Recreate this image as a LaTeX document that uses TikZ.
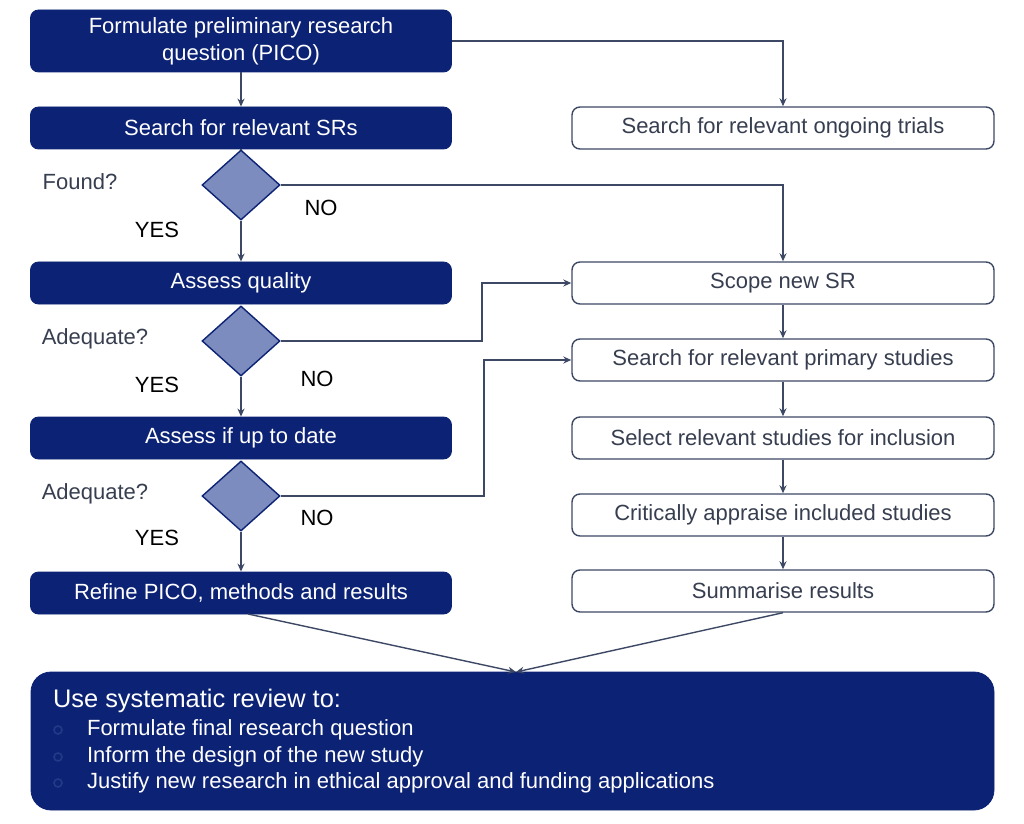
\documentclass[tikz,border=0pt]{standalone}
\usepackage{fontspec}
\setmainfont{Liberation Sans}
\usetikzlibrary{shapes.geometric,arrows.meta}

\definecolor{navy}{RGB}{12,34,116}
\definecolor{slate}{RGB}{125,140,190}
\definecolor{edgegray}{RGB}{60,72,100}
\definecolor{txtgray}{RGB}{55,62,80}
\definecolor{dotblue}{RGB}{36,58,136}

\tikzset{
  darkbox/.style={draw=navy, fill=navy, text=white, rounded corners=4pt,
    minimum width=210.5pt, minimum height=21pt, inner sep=0pt, align=center,
    font=\fontsize{11}{13.5}\selectfont},
  lightbox/.style={draw=edgegray, fill=white, text=txtgray, rounded corners=4pt,
    line width=0.7pt, minimum width=211pt, minimum height=21pt, inner sep=0pt,
    font=\fontsize{11}{13.5}\selectfont},
  decision/.style={diamond, draw=navy, fill=slate, line width=0.7pt,
    minimum width=39pt, minimum height=35pt, inner sep=0pt},
  lbl/.style={font=\fontsize{11}{13}\selectfont, text=txtgray},
  link/.style={draw=edgegray, line width=0.7pt},
  arr/.style={link, -{Stealth[length=4pt,width=3.5pt]}},
}

\begin{document}
\begin{tikzpicture}[x=0.5pt, y=-0.5pt]
        \useasboundingbox (0,0) rectangle (1024,824);

        % left column
        \node[darkbox, minimum height=31pt] at (241,41) (formulate) {Formulate preliminary research\\question (PICO)};
        \node[darkbox] at (241,128) (searchsr) {Search for relevant SRs};
        \node[decision] at (241,185) (found) {};
        \node[darkbox] at (241,283) (quality) {Assess quality};
        \node[decision] at (241,341) (adequateA) {};
        \node[darkbox] at (241,438) (uptodate) {Assess if up to date};
        \node[decision] at (241,496) (adequateB) {};
        \node[darkbox] at (241,593) (refine) {Refine PICO, methods and results};

        % right column
        \node[lightbox] at (783,128) (trials) {Search for relevant ongoing trials};
        \node[lightbox] at (783,283) (scope) {Scope new SR};
        \node[lightbox] at (783,360) (primary) {Search for relevant primary studies};
        \node[lightbox] at (783,438) (select) {Select relevant studies for inclusion};
        \node[lightbox] at (783,515) (appraise) {Critically appraise included studies};
        \node[lightbox] at (783,591) (summarise) {Summarise results};

        % bottom box
        \node[draw=navy, fill=navy, rounded corners=10pt, minimum width=481.5pt,
              minimum height=69pt, inner sep=0pt] at (512.5,741) (usesr) {};
        \node[anchor=west, text=white, font=\fontsize{12.7}{14}\selectfont] at (46,701) (usehead) {Use systematic review to:};
        \foreach \y/\t [count=\i] in {730/Formulate final research question,
                                      757/Inform the design of the new study,
                                      783/Justify new research in ethical approval and funding applications} {
          \draw[dotblue, line width=0.8pt] (58,\y) circle (2pt);
          \node[anchor=west, text=white, font=\fontsize{11}{13}\selectfont] at (80,\y) (item\i) {\t};
        }

        % decision labels
        \node[lbl] at (80,182) (foundq) {Found?};
        \node[lbl, text=black] at (157,230) (yesA) {YES};
        \node[lbl, text=black] at (321,208) (noA) {NO};
        \node[lbl] at (95,339) (adqA) {Adequate?};
        \node[lbl, text=black] at (157,385) (yesB) {YES};
        \node[lbl, text=black] at (317,379) (noB) {NO};
        \node[lbl] at (95,494) (adqB) {Adequate?};
        \node[lbl, text=black] at (157,538) (yesC) {YES};
        \node[lbl, text=black] at (317,518) (noC) {NO};

        % connectors, left column
        \draw[arr] (formulate) -- (searchsr);
        \draw[link] (searchsr.south) -- (found.north);
        \draw[arr] (found) -- (quality);
        \draw[arr] (adequateA) -- (uptodate);
        \draw[arr] (adequateB) -- (refine);

        % connectors to the right
        \draw[arr] (formulate.east) -| (trials.north);
        \draw[arr] (found.east) -| (scope.north);
        \draw[arr] (adequateA.east) -- (482,341) |- (scope.west);
        \draw[arr] (adequateB.east) -- (484,496) |- (primary.west);

        % right column
        \draw[arr] (scope) -- (primary);
        \draw[arr] (primary) -- (select);
        \draw[arr] (select) -- (appraise);
        \draw[arr] (appraise) -- (summarise);

        % merge into the bottom box
        \coordinate (merge) at (516,672);
        \draw[arr] (248,614) -- (merge);
        \draw[arr] (summarise.south) -- (merge);

    \end{tikzpicture}
\end{document}
